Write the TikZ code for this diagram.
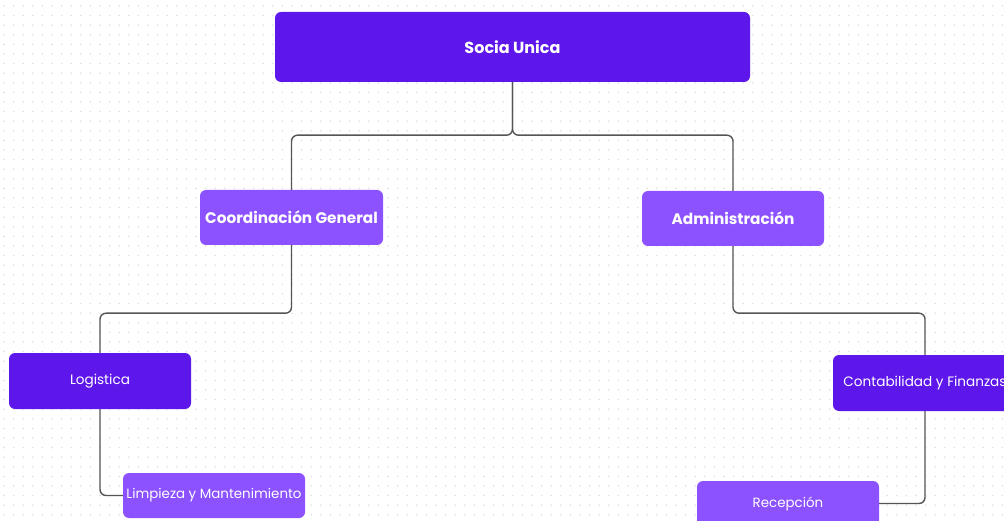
\documentclass[tikz,border=0pt]{standalone}
\usepackage{fontspec}
\setmainfont{Poppins}
\definecolor{darkv}{HTML}{5E17EB}
\definecolor{lightv}{HTML}{8C52FF}
\definecolor{conn}{HTML}{555555}
\definecolor{dotc}{HTML}{E0E0E0}
\begin{document}
\begin{tikzpicture}[x=1pt,y=-1pt,
  box/.style={rounded corners=6pt,inner sep=0pt,text=white,anchor=center},
  lvlA/.style={box,fill=darkv,font=\bfseries\fontsize{16}{19}\selectfont},
  lvlB/.style={box,fill=lightv,font=\bfseries\fontsize{15.3}{18}\selectfont},
  lvlC/.style={box,fill=darkv,font=\fontsize{13.6}{16}\selectfont},
  lvlD/.style={box,fill=lightv,font=\fontsize{13.4}{16}\selectfont},
  link/.style={draw=conn,line width=1.4pt,rounded corners=6pt}]
\useasboundingbox (0,0) rectangle (1004,521);
\clip (0,0) rectangle (1004,521);
\fill[white] (0,0) rectangle (1004,521);
\foreach \i in {0,...,104}{
  \foreach \j in {0,...,54}{
    \fill[dotc] (4+9.6*\i,6+9.6*\j) circle (0.9pt);
  }
}
\node[lvlA,minimum width=475pt,minimum height=70pt] (socia) at (512.5,47) {Socia Unica};
\node[lvlB,minimum width=183pt,minimum height=55pt] (coord) at (291.5,217.5) {Coordinación General};
\node[lvlB,minimum width=182pt,minimum height=55pt] (admin) at (733,218.5) {Administración};
\node[lvlC,minimum width=182pt,minimum height=56pt] (logi) at (100,381) {\raisebox{-1.5pt}{Logistica}};
\node[lvlC,minimum width=184pt,minimum height=56pt] (conta) at (925,383) {Contabilidad y Finanzas};
\node[lvlD,minimum width=182pt,minimum height=45pt] (limp) at (214,495.5) {\raisebox{-1pt}{Limpieza y Mantenimiento}};
\node[lvlD,minimum width=182pt,minimum height=45pt] (recep) at (788,503.5) {\raisebox{-1pt}{Recepción}};
\path (socia.south) ++(0,53) coordinate (bus);
\draw[link] (socia.south) -- (bus) -| (coord.north);
\draw[link] (socia.south) -- (bus) -| (admin.north);
\draw[link] (coord.south) -- ++(0,68) -| (logi.north);
\draw[link] (admin.south) -- ++(0,67) -| (conta.north);
\draw[link] (logi.south) |- (limp.west);
\draw[link] (conta.south) |- (recep.east);
\end{tikzpicture}
\end{document}
